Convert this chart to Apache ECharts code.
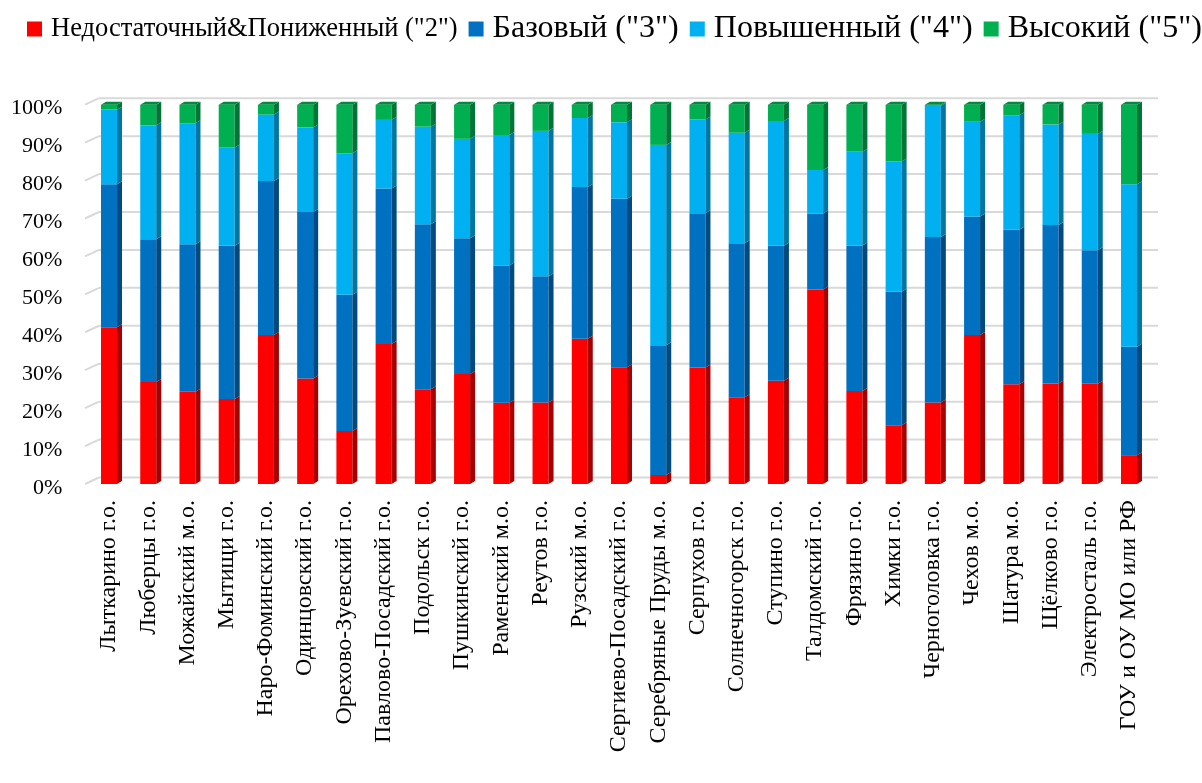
<!DOCTYPE html>
<html>
<head>
<meta charset="utf-8">
<script src="https://cdn.jsdelivr.net/npm/echarts@6/dist/echarts.min.js"></script>
<style>
  html, body { margin: 0; padding: 0; background: #fff; }
  #chart { width: 1202px; height: 783px; }
</style>
</head>
<body>
<div id="chart"></div>
<script>
// Municipalities (categories)
const categories = [
  'Лыткарино г.о.', 'Люберцы г.о.', 'Можайский м.о.', 'Мытищи г.о.',
  'Наро-Фоминский г.о.', 'Одинцовский г.о.', 'Орехово-Зуевский г.о.',
  'Павлово-Посадский г.о.', 'Подольск г.о.', 'Пушкинский г.о.', 'Раменский м.о.',
  'Реутов г.о.', 'Рузский м.о.', 'Сергиево-Посадский г.о.', 'Серебряные Пруды м.о.',
  'Серпухов г.о.', 'Солнечногорск г.о.', 'Ступино г.о.', 'Талдомский г.о.',
  'Фрязино г.о.', 'Химки г.о.', 'Черноголовка г.о.', 'Чехов м.о.', 'Шатура м.о.',
  'Щёлково г.о.', 'Электросталь г.о.', 'ГОУ и ОУ МО или РФ'
];

// Share of students per level, %
const level2 = [41.3, 26.9, 24.3, 22.4, 39.3, 27.8, 14.0, 36.9, 25.0, 29.0, 21.4, 21.5, 38.3, 30.8, 2.4, 30.7, 22.9, 27.2, 51.3, 24.5, 15.5, 21.5, 39.3, 26.3, 26.5, 26.4, 7.6];
const level3 = [37.7, 37.6, 38.9, 40.4, 40.6, 43.9, 35.9, 41.0, 43.5, 35.8, 36.2, 33.3, 40.0, 44.4, 34.2, 40.7, 40.6, 35.6, 20.0, 38.4, 35.2, 43.6, 31.2, 40.7, 41.8, 35.2, 28.6];
const level4 = [19.7, 30.1, 31.9, 25.9, 17.5, 22.3, 37.3, 18.1, 25.7, 26.2, 34.4, 38.3, 18.2, 20.2, 52.8, 24.7, 29.1, 32.9, 11.5, 24.7, 34.3, 34.6, 25.0, 30.2, 26.5, 30.7, 42.8];
const level5 = [1.3, 5.4, 4.9, 11.3, 2.6, 6.0, 12.8, 4.0, 5.8, 9.0, 8.0, 6.9, 3.5, 4.6, 10.6, 3.9, 7.4, 4.3, 17.2, 12.4, 15.0, 0.3, 4.5, 2.8, 5.2, 7.7, 21.0];

// Axis ticks
const yTicks = [0, 10, 20, 30, 40, 50, 60, 70, 80, 90, 100];

const seriesNames = ['Недостаточный&Пониженный ("2")', 'Базовый ("3")', 'Повышенный ("4")', 'Высокий ("5")'];
const seriesValues = [level2, level3, level4, level5];
const frontColors = ['#FF0000', '#0070C0', '#00B0F0', '#00B050'];
const sideColors  = ['#A80000', '#004A7F', '#0077A2', '#007535'];
const topColors   = ['#C00000', '#005A99', '#0090C4', '#008C40'];

const FONT = '"Liberation Serif", "Times New Roman", serif';
const BAR_W = 16, DX = 5, DY = 3;

// cumulative [category, from, to] triplets for each stacked level
const totals = categories.map((_, i) => seriesValues.reduce((s, arr) => s + arr[i], 0));
const stacked = [];
const running = categories.map(() => 0);
seriesValues.forEach((arr) => {
  const rows = arr.map((v, i) => {
    const pct = v / totals[i] * 100;
    const row = [i, running[i], running[i] + pct];
    running[i] += pct;
    return row;
  });
  stacked.push(rows);
});

function barRenderer(si) {
  const isTop = si === seriesValues.length - 1;
  return function (params, api) {
    const c = api.value(0);
    const p0 = api.coord([c, api.value(1)]);
    const p1 = api.coord([c, api.value(2)]);
    const x0 = p0[0] - BAR_W / 2, x1 = p0[0] + BAR_W / 2;
    const yb = p0[1], yt = p1[1];
    const children = [
      { type: 'rect', shape: { x: x0, y: yt, width: BAR_W, height: yb - yt },
        style: { fill: frontColors[si] } },
      { type: 'polygon', shape: { points: [[x1, yt], [x1 + DX, yt - DY], [x1 + DX, yb - DY], [x1, yb]] },
        style: { fill: sideColors[si] } }
    ];
    if (isTop) {
      children.push({ type: 'polygon',
        shape: { points: [[x0, yt], [x0 + DX, yt - DY], [x1 + DX, yt - DY], [x1, yt]] },
        style: { fill: topColors[si] } });
    }
    return { type: 'group', children };
  };
}

// back-wall gridlines with the slanted floor edge at the left
const WALL_DX = 14, WALL_DY = 6.5;
function gridRenderer(params, api) {
  const cs = params.coordSys;
  const y = api.coord([0, api.value(0)])[1];
  const xs = cs.x - 4.4;
  const xe = cs.x + cs.width + 9.4;
  const style = { stroke: '#D9D9D9', lineWidth: 2 };
  return { type: 'group', children: [
    { type: 'line', shape: { x1: xs, y1: y, x2: xs + WALL_DX, y2: y - WALL_DY }, style },
    { type: 'line', shape: { x1: xs + WALL_DX, y1: y - WALL_DY, x2: xe, y2: y - WALL_DY }, style }
  ] };
}

const chart = echarts.init(document.getElementById('chart'), null, { renderer: 'canvas' });

const series = [{
  type: 'custom',
  name: 'grid',
  renderItem: gridRenderer,
  data: yTicks.map(v => [v]),
  encode: { y: 0 },
  silent: true,
  z: 1
}];
seriesNames.forEach((name, si) => {
  series.push({
    type: 'custom',
    name,
    renderItem: barRenderer(si),
    data: stacked[si],
    encode: { x: 0, y: [1, 2] },
    itemStyle: { color: frontColors[si] },
    z: 2 + si
  });
});

chart.setOption({
  animation: false,
  color: frontColors,
  textStyle: { fontFamily: FONT },
  legend: {
    data: seriesNames.map((n, i) => ({ name: n, itemStyle: { color: frontColors[i] } })),
    left: 27,
    right: 0,
    top: 13,
    padding: 0,
    icon: 'rect',
    itemWidth: 15,
    itemHeight: 15,
    itemGap: 11,
    formatter: function (name) {
      return (name === seriesNames[0] ? '{s|' : '{b|') + name + '}';
    },
    textStyle: {
      fontFamily: FONT, color: '#000',
      rich: {
        s: { fontFamily: FONT, fontSize: 26.5, lineHeight: 36, color: '#000', padding: [0, 0, 0, 4] },
        b: { fontFamily: FONT, fontSize: 32, lineHeight: 36, color: '#000', padding: [0, 0, 0, 4] }
      }
    }
  },
  grid: { left: 89.4, right: 53.4, top: 104.7, bottom: 299, containLabel: false },
  xAxis: {
    type: 'category',
    data: categories,
    axisLine: { show: false },
    axisTick: { show: false },
    axisLabel: { rotate: 90, interval: 0, margin: 16, color: '#000', fontFamily: FONT, fontSize: 24 }
  },
  yAxis: {
    type: 'value',
    min: 0, max: 100, interval: 10,
    axisLine: { show: false },
    axisTick: { show: false },
    splitLine: { show: false },
    axisLabel: {
      formatter: '{v|{value}%}', margin: 27,
      rich: { v: { fontFamily: FONT, fontSize: 22, color: '#000', padding: [8, 0, 0, 0] } }
    }
  },
  series
});
</script>
</body>
</html>
